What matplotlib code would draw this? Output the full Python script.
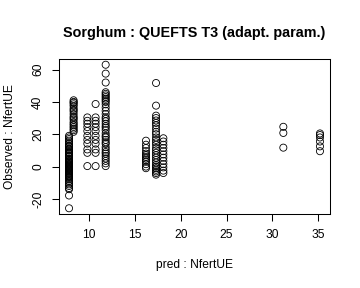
import matplotlib
matplotlib.use("Agg")
import matplotlib.pyplot as plt
import numpy as np

# Predicted NfertUE for each group of observations (vertical columns)
pred_groups = [7.8, 8.3, 9.8, 10.7, 11.8, 16.2, 17.3, 18.1, 31.2, 35.2]
# Observed NfertUE values for each group
obs_A = [19, 18, 17, 16, 15, 14, 13, 12.5, 12, 11, 10.5, 10, 9, 8.5, 8, 7, 6.5, 6, 5, 4.5,
         4, 3.5, 3, 2.5, 2, 1.5, 1, 0.5, 0, -0.5, -1, -1.5, -2, -2.5, -3, -3.5, -4, -4.5,
         -5, -5.5, -6, -6.5, -7, -8, -9, -10, -11, -12, -13.3, -14, -17.9, -25.8]
obs_B = [41, 40, 39.5, 38.5, 37.5, 36, 35, 34, 32.5, 31, 30, 29, 27.5, 26.5, 25.5, 24.5,
         23.5, 22.5, 21.5]
obs_C = [30.4, 28.3, 26.5, 24.4, 22, 19, 16.5, 14.2, 10.6, 8.5, 0.3]
obs_D = [38.7, 30.4, 28.3, 26.5, 24.4, 22, 19, 16.5, 14.2, 10.6, 8.5, 0.3]
obs_E = [63, 57.5, 52, 46, 45, 44, 43, 42, 41, 40, 38.5, 36.5, 34.5, 32.5, 30.5, 29.5,
         28, 26.5, 25, 24, 22.5, 20.5, 19, 18, 16.5, 15, 14, 12, 10.5, 9, 8, 6.5, 5, 3.5,
         2, 0.3]
obs_F = [16, 13.5, 11.5, 9.5, 8, 7, 6, 5, 4, 3, 1.5, 0, -1]
obs_G = [51.7, 37.7, 31.5, 30, 28.5, 27, 25.5, 23.5, 21.5, 20, 18, 16.5, 15, 13.5, 11.5,
         10, 8.5, 7, 5.5, 4, 2.5, 1, 0, -1, -2, -3, -4, -5]
obs_H = [17.5, 15.5, 13.5, 11.5, 9.5, 7.5, 5.5, 3.5, 1.5, -0.5, -2.5, -4]
obs_I = [24.6, 20.8, 11.7]
obs_J = [20.5, 19.5, 18, 15.5, 12.5, 9.5]

obs_groups = [obs_A, obs_B, obs_C, obs_D, obs_E, obs_F, obs_G, obs_H, obs_I, obs_J]

x_ticks = [10, 15, 20, 25, 30, 35]
y_ticks = [-20, 0, 20, 40, 60]

title = "Sorghum : QUEFTS T3 (adapt. param.)"
xlabel = "pred : NfertUE"
ylabel = "Observed : NfertUE"

plt.rcParams['font.family'] = ['Liberation Sans', 'DejaVu Sans']

W, H = 360, 288
fig = plt.figure(figsize=(W / 100, H / 100), dpi=100)
left, right, top, bottom = 59, 330, 59, 214
ax = fig.add_axes([left / W, 1 - bottom / H, (right - left) / W, (bottom - top) / H])

xs = np.concatenate([[p] * len(o) for p, o in zip(pred_groups, obs_groups)])
ys = np.concatenate(obs_groups)
ax.scatter(xs, ys, s=26, facecolors='none', edgecolors='black', linewidths=0.6)

# R-like 4% axis extension
xr = xs.max() - xs.min()
yr = ys.max() - ys.min()
ax.set_xlim(xs.min() - 0.04 * xr, xs.max() + 0.04 * xr)
ax.set_ylim(ys.min() - 0.04 * yr, ys.max() + 0.04 * yr)

ax.set_xticks(x_ticks)
ax.set_yticks(y_ticks)
ax.set_xticklabels([str(t) for t in x_ticks])
ax.set_yticklabels([str(t) for t in y_ticks], rotation=90, va='center')
ax.tick_params(direction='out', length=5.2, width=0.75, labelsize=8.64, colors='black')
ax.tick_params(axis='x', pad=5.5)
ax.tick_params(axis='y', pad=5.5)
for s in ax.spines.values():
    s.set_linewidth(0.75)
    s.set_color('black')

fig.text((left + right) / 2 / W, 1 - 33 / H, title, ha='center', va='center',
         fontsize=10.37, fontweight='bold')
fig.text((left + right) / 2 / W, 1 - 265 / H, xlabel, ha='center', va='center', fontsize=8.64)
fig.text(10 / W, 1 - (top + bottom) / 2 / H, ylabel, ha='center', va='center',
         rotation=90, fontsize=8.64)

fig.savefig("out.png", dpi=100, facecolor='white')
